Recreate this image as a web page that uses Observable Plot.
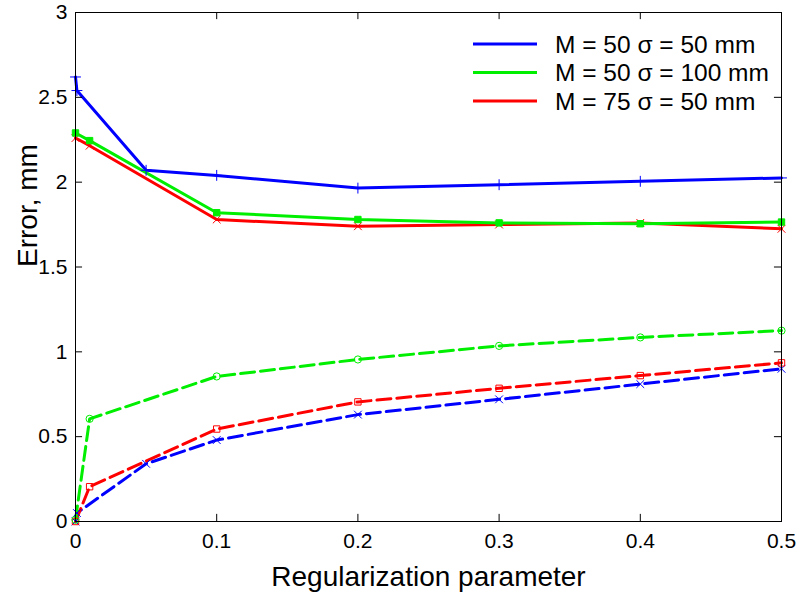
<!DOCTYPE html>
<html><head><meta charset="utf-8">
<script src="https://cdn.jsdelivr.net/npm/d3@7"></script>
<script src="https://cdn.jsdelivr.net/npm/@observablehq/plot@0.6"></script>
<style>body{margin:0;background:#fff;font-family:"Liberation Sans",Arial,sans-serif;}</style>
</head><body><div id="chart"></div>
<script>
// ---- data ----
const seriesNames = ["M = 50 σ = 50 mm", "M = 50 σ = 100 mm", "M = 75 σ = 50 mm"];
const seriesColors = ["#0000ff", "#00ee00", "#ff0000"];

const blueSolidX = [0, 0.001, 0.05, 0.1, 0.2, 0.3, 0.4, 0.5];
const blueSolidY = [2.62, 2.54, 2.07, 2.04, 1.965, 1.985, 2.005, 2.025];
const greenSolidX = [0, 0.01, 0.1, 0.2, 0.3, 0.4, 0.5];
const greenSolidY = [2.29, 2.245, 1.82, 1.78, 1.76, 1.755, 1.765];
const redSolidX = [0, 0.01, 0.1, 0.2, 0.3, 0.4, 0.5];
const redSolidY = [2.26, 2.215, 1.78, 1.74, 1.75, 1.76, 1.725];

const blueDashX = [0, 0.001, 0.05, 0.1, 0.2, 0.3, 0.4, 0.5];
const blueDashY = [0.0, 0.05, 0.34, 0.48, 0.63, 0.72, 0.81, 0.90];
const greenDashX = [0, 0.01, 0.1, 0.2, 0.3, 0.4, 0.5];
const greenDashY = [0.01, 0.605, 0.855, 0.955, 1.035, 1.085, 1.125];
const redDashX = [0, 0.01, 0.1, 0.2, 0.3, 0.4, 0.5];
const redDashY = [0.0, 0.205, 0.545, 0.705, 0.785, 0.86, 0.935];

const xTicks = [0, 0.1, 0.2, 0.3, 0.4, 0.5];
const xTickLabels = ["0", "0.1", "0.2", "0.3", "0.4", "0.5"];
const yTicks = [0, 0.5, 1, 1.5, 2, 2.5, 3];
const yTickLabels = ["0", "0.5", "1", "1.5", "2", "2.5", "3"];

const xLabel = "Regularization parameter";
const yLabel = "Error, mm";

// ---- build ----
const rows = (xs, ys) => xs.map((x, i) => ({x, y: ys[i]}));
const series = [
  {data: rows(blueSolidX, blueSolidY), color: seriesColors[0], dash: null, symbol: "plus", fill: "none"},
  {data: rows(redSolidX, redSolidY), color: seriesColors[2], dash: null, symbol: "times", fill: "none"},
  {data: rows(greenSolidX, greenSolidY), color: seriesColors[1], dash: null, symbol: "square", fill: seriesColors[1]},
  {data: rows(blueDashX, blueDashY), color: seriesColors[0], dash: "14,6", symbol: "times", fill: "none"},
  {data: rows(redDashX, redDashY), color: seriesColors[2], dash: "14,6", symbol: "square", fill: "none"},
  {data: rows(greenDashX, greenDashY), color: seriesColors[1], dash: "14,6", symbol: "circle", fill: "none"}
];

const marks = [];
for (const s of series) {
  marks.push(Plot.line(s.data, {x: "x", y: "y", stroke: s.color, strokeWidth: 3, strokeDasharray: s.dash, curve: "linear"}));
}
for (const s of series) {
  marks.push(Plot.dot(s.data, {x: "x", y: "y", stroke: s.color, fill: s.fill, symbol: s.symbol, r: 3.6, strokeWidth: 1}));
}

const tickFont = '"Liberation Sans Narrow", "Liberation Sans", Arial, sans-serif';
const plot = Plot.plot({
  width: 800, height: 599,
  marginLeft: 75, marginRight: 19, marginTop: 12, marginBottom: 78,
  style: {fontFamily: '"Liberation Sans", Arial, sans-serif', background: "#fff", color: "#000"},
  x: {domain: [0, 0.5]},
  y: {domain: [0, 3]},
  marks: [
    ...marks,
    Plot.frame({stroke: "#000", strokeWidth: 1}),
    Plot.ruleX(xTicks, {x: d => d, y1: 0, y2: 0.042, stroke: "#000"}),
    Plot.ruleX(xTicks, {x: d => d, y1: 3, y2: 2.958, stroke: "#000"}),
    Plot.ruleY(yTicks, {y: d => d, x1: 0, x2: 0.005, stroke: "#000"}),
    Plot.ruleY(yTicks, {y: d => d, x1: 0.5, x2: 0.495, stroke: "#000"}),
    Plot.axisX({ticks: xTicks, tickSize: 0, tickPadding: 12, fontSize: 21, fontFamily: tickFont, label: null,
      tickFormat: d => xTickLabels[xTicks.indexOf(d)]}),
    Plot.axisY({ticks: yTicks, tickSize: 0, tickPadding: 8, fontSize: 21, fontFamily: tickFont, label: null,
      tickFormat: d => yTickLabels[yTicks.indexOf(d)]}),
    Plot.text([yLabel], {text: d => d, frameAnchor: "left", rotate: -90, dx: -47, fontSize: 28, fill: "#000"}),
    Plot.text([xLabel], {text: d => d, frameAnchor: "bottom", dy: 56, lineAnchor: "middle", fontSize: 28, fill: "#000"})
  ]
});

// legend
const svg = d3.select(plot);
const lg = svg.append("g").attr("font-family", '"Liberation Sans", Arial, sans-serif').attr("text-anchor", "start");
seriesNames.forEach((name, i) => {
  const y = 44 + i * 28.5;
  lg.append("line").attr("x1", 473).attr("x2", 537).attr("y1", y).attr("y2", y)
    .attr("stroke", seriesColors[i]).attr("stroke-width", 3);
  lg.append("text").attr("x", 555).attr("y", y).attr("dy", "0.35em").attr("text-anchor", "start")
    .attr("font-size", 24.5).attr("fill", "#000").text(name);
});

document.getElementById("chart").appendChild(plot);
</script></body></html>
